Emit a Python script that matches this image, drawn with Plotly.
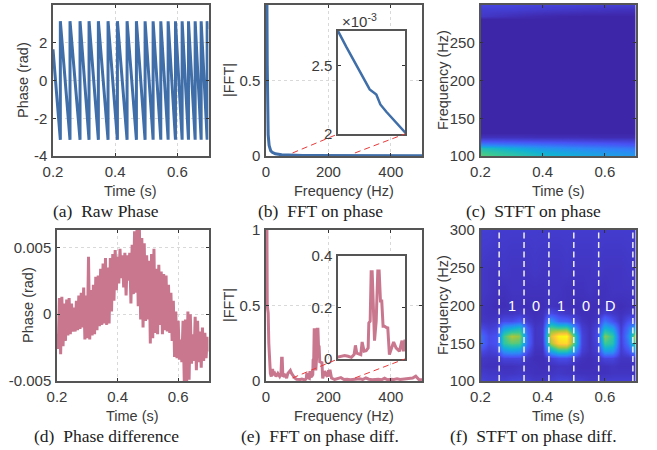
import numpy as np
import plotly.graph_objects as go

W, H = 657, 450
BLUE = "#3F6EA8"
PINK = "#C9778F"
INK = "#3A3A3A"
SANS = "Liberation Sans"
SERIF = "Liberation Serif"

# (a) raw phase
raw_time = [0.2, 0.2236, 0.2236, 0.2547, 0.2547, 0.2869, 0.2869, 0.3159, 0.3159, 0.3459, 0.3459, 0.3770, 0.3770,
            0.4071, 0.4071, 0.4382, 0.4382, 0.4682, 0.4682, 0.4961, 0.4961, 0.5219, 0.5219, 0.5466, 0.5466,
            0.5702, 0.5702, 0.5938, 0.5938, 0.6152, 0.6152, 0.6356, 0.6356, 0.6571, 0.6571, 0.6764, 0.6764,
            0.6957, 0.6957, 0.7]
raw_phase = [1.65, -3.14, 3.14, -3.14, 3.14, -3.14, 3.14, -3.14, 3.14, -3.14, 3.14, -3.14, 3.14,
             -3.14, 3.14, -3.14, 3.14, -3.14, 3.14, -3.14, 3.14, -3.14, 3.14, -3.14, 3.14,
             -3.14, 3.14, -3.14, 3.14, -3.14, 3.14, -3.14, 3.14, -3.14, 3.14, -3.14, 3.14,
             -3.14, 3.14, 2.7]

# (b) FFT on phase
fft_freq = [0, 3, 4, 5, 7, 10, 15, 20, 30, 50, 80, 105, 117.4, 132.4, 142.3, 152.3, 162.2, 168.2, 177.1, 189.6, 205, 300, 500]
fft_mag = [1, 1, 0.6, 0.3, 0.14, 0.07, 0.035, 0.025, 0.015, 0.008, 0.004, 0.002756, 0.002639, 0.002505, 0.002407,
           0.002327, 0.00229, 0.002217, 0.002163, 0.00209, 0.002, 0.0015, 0.0012]

# (d) phase difference, in units of 1e-3 rad, one sample per 4 ms from 0.2 s
diff_milli = [-1.5, -2.6, 1.2, -3.0, 1.3, -2.4, 0.8, -2.0, 1.1, -1.6, 1.2, -1.5, 0.8, -1.3, 0.5, -1.3, 1.0, -1.2, 1.4, -1.1,
              1.6, -1.0, 2.0, -1.9, 1.4, -1.8, 4.3, -1.9, 1.8, -1.6, 2.2, -1.5, 2.8, -1.2, 2.9, -0.9, 3.4, -0.8, 3.8, -0.7,
              4.2, -0.8, 3.5, -0.7, 4.2, 0.2, 4.5, 1.0, 4.8, 1.8, 4.3, 2.3, 4.9, 2.7, 4.4, 2.0, 4.6, 1.4, 4.4, 2.5,
              4.6, 0.8, 5.2, 1.5, 6.2, 1.6, 6.4, 0.6, 6.4, -0.4, 5.7, -1.0, 5.3, -0.5, 4.4, -0.4, 4.0, -2.2, 4.5, -1.8,
              4.9, -1.4, 3.4, -1.5, 3.7, -0.8, 3.2, -1.5, 3.0, -1.2, 2.9, -1.3, 2.2, -1.4, 1.6, -2.0, 1.0, -3.2, 0.2, -3.3,
              -0.5, -3.4, -1.9, -3.6, -0.5, -5.0, -0.4, -5.0, 0.2, -4.9, 0.0, -3.7, -1.5, -3.5, -0.2, -4.2, -0.5, -3.6,
              -1.3, -4.0, -1.0, -3.5, -1.4, -3.3, -1.7, -2.8]
diff_time = [0.2 + 0.004 * i for i in range(len(diff_milli))]
diff_phase = [v / 1000 for v in diff_milli]

# (e) FFT on phase difference
dfft_freq = [0, 3, 4, 7, 9, 12, 14, 17, 21, 24, 28, 32, 38, 44, 48, 50, 52, 54, 60, 66, 70, 74, 78, 82, 86, 92, 98, 102,
             105, 110, 115, 120, 125, 129, 131, 133, 136, 139, 141, 144, 147, 150, 151, 153, 154.5, 156, 159.5, 162,
             164.4, 166.4, 168.4, 170.3, 172.3, 174.3, 176.8, 179.3, 181.7, 184.2, 188, 191.6, 196.6, 200.5, 202.5, 205,
             210, 220, 230, 240, 250, 260, 270, 280, 290, 300, 310, 320, 330, 340, 350, 360, 370, 380, 390, 400, 410,
             420, 430, 440, 450, 460, 470, 480, 485, 490, 500]
dfft_mag = [1, 1, 0.5, 0.45, 0.25, 0.12, 0.05, 0.03, 0.08, 0.04, 0.05, 0.03, 0.05, 0.03, 0.045, 0.15, 0.15, 0.03, 0.04,
            0.02, 0.05, 0.06, 0.07, 0.05, 0.035, 0.02, 0.012, 0.01,
            0.0078, 0.0104, 0.013, 0.0104, 0.0065, 0.017, 0.053, 0.023, 0.019, 0.017, 0.066, 0.03, 0.032, 0.043, 0.14,
            0.147, 0.339, 0.339, 0.071, 0.147, 0.342, 0.342, 0.225, 0.225, 0.127, 0.127, 0.123, 0.121, 0.017, 0.036,
            0.066, 0.043, 0.03, 0.071, 0.03, 0.075,
            0.02, 0.01, 0.015, 0.022, 0.01, 0.012, 0.008, 0.01, 0.008, 0.015, 0.01, 0.02, 0.012, 0.008, 0.01, 0.012,
            0.008, 0.018, 0.008, 0.012, 0.01, 0.014, 0.01, 0.012, 0.015, 0.018, 0.02, 0.032, 0.02, 0.01, 0.008]

# (c) STFT on phase
stft_time = [0.2, 0.3, 0.4, 0.5, 0.6, 0.7]
stft_freq = [100, 105, 110, 115, 120, 125, 130, 275, 282, 286, 295, 300]
stft_phase = [
    [.62, .56, .47, .42, .38, .34],
    [.58, .50, .42, .37, .33, .30],
    [.50, .42, .34, .30, .27, .24],
    [.30, .27, .24, .21, .19, .16],
    [.14, .13, .12, .11, .10, .09],
    [.04, .04, .03, .03, .02, .02],
    [.00, .00, .00, .00, .00, .00],
    [.00, .00, .00, .00, .00, .00],
    [.00, .00, .00, .00, .00, .00],
    [.06, .03, .01, .00, .00, .00],
    [.08, .08, .07, .06, .05, .04],
    [.10, .10, .09, .09, .08, .08],
]

# (f) STFT on phase difference
sdiff_time = [0.2, 0.225, 0.25, 0.275, 0.3, 0.325, 0.35, 0.375, 0.4, 0.425, 0.45, 0.475, 0.5, 0.525, 0.55, 0.575, 0.6, 0.625, 0.65, 0.675, 0.7]
sdiff_freq = [100, 110, 120, 130, 140, 150, 160, 170, 180, 190, 200, 220, 250, 300]
stft_diff = [
    [.10, .08, .08, .08, .10, .10, .08, .06, .06, .08, .10, .10, .08, .08, .06, .06, .08, .08, .08, .08, .08],
    [.07, .06, .06, .05, .05, .06, .05, .04, .04, .05, .06, .05, .05, .04, .04, .04, .04, .05, .05, .05, .05],
    [.05, .04, .04, .04, .04, .05, .04, .04, .03, .04, .05, .05, .04, .03, .03, .04, .04, .05, .04, .04, .05],
    [.06, .05, .05, .10, .10, .10, .05, .03, .03, .08, .12, .12, .08, .04, .03, .05, .10, .10, .05, .05, .08],
    [.12, .08, .10, .32, .36, .34, .12, .04, .04, .38, .52, .52, .36, .08, .04, .08, .36, .34, .07, .14, .36],
    [.22, .12, .14, .55, .62, .60, .20, .05, .06, .72, .90, .92, .62, .10, .04, .10, .58, .52, .08, .25, .68],
    [.22, .12, .14, .58, .72, .68, .20, .05, .07, .80, .98, 1.0, .62, .10, .04, .12, .68, .55, .08, .30, .82],
    [.12, .08, .10, .36, .42, .48, .16, .05, .07, .62, .58, .60, .34, .08, .04, .10, .44, .36, .07, .24, .44],
    [.06, .05, .06, .12, .12, .16, .07, .04, .05, .34, .20, .18, .12, .05, .03, .06, .24, .14, .05, .14, .14],
    [.05, .04, .04, .05, .05, .06, .04, .03, .04, .12, .08, .06, .05, .03, .03, .04, .08, .06, .04, .06, .06],
    [.05, .04, .03, .03, .04, .04, .03, .03, .03, .05, .04, .04, .03, .03, .03, .03, .04, .04, .03, .04, .04],
    [.06, .05, .04, .04, .05, .05, .04, .04, .04, .05, .05, .04, .04, .04, .05, .04, .04, .05, .05, .05, .05],
    [.06, .05, .05, .06, .05, .05, .05, .06, .05, .05, .05, .06, .05, .05, .05, .06, .05, .05, .05, .06, .05],
    [.08, .08, .07, .07, .07, .07, .07, .07, .07, .07, .07, .07, .07, .07, .07, .07, .07, .07, .07, .07, .07],
]

# (f) bit boundaries and labels
bit_edges = [0.26, 0.34, 0.42, 0.50, 0.58, 0.69]
bit_labels = ["1", "0", "1", "0", "D"]
bit_centers = [0.30, 0.38, 0.46, 0.54, 0.615]

captions = ["(a)  Raw Phase", "(b)  FFT on phase", "(c)  STFT on phase",
            "(d)  Phase difference", "(e)  FFT on phase diff.", "(f)  STFT on phase diff."]

parula = [[0, "rgb(62,38,168)"], [1/7, "rgb(72,82,244)"], [2/7, "rgb(46,135,247)"], [3/7, "rgb(18,177,214)"],
          [4/7, "rgb(55,200,151)"], [5/7, "rgb(171,199,57)"], [6/7, "rgb(254,195,56)"], [1, "rgb(249,251,21)"]]


def box(px0, px1, top, bottom):
    return [px0 / W, px1 / W], [1 - bottom / H, 1 - top / H]


def axis(domain, rng, anchor, tickvals, ticktext, grid=True):
    return dict(domain=domain, range=rng, anchor=anchor, tickmode="array", tickvals=tickvals, ticktext=ticktext,
                showticklabels=bool(tickvals), automargin=False,
                showline=True, linecolor="#555555", linewidth=1.5, mirror="ticks", ticks="inside", ticklen=3,
                tickwidth=1, tickcolor="#333333", showgrid=grid, gridcolor="#d9d9d9", griddash="dot", gridwidth=1,
                zeroline=False, layer="above traces", tickfont=dict(family=SANS, size=15, color=INK),
                ticklabelstandoff=1)


layout = {}
rows = [(5, 156), (230, 381)]
time_ticks = ([0.2, 0.4, 0.6], ["0.2", "0.4", "0.6"])
freq_x = ([0, 200, 400], ["0", "200", "400"])
freq_y = ([100, 150, 200, 250, 300], ["100", "150", "200", "250", "300"])
fft_y = ([0, 0.5, 1], ["0", "0.5", "1"])

xd, yd = box(53, 208.5, *rows[0])
layout["xaxis"] = axis(xd, [0.2, 0.7], "y", *time_ticks)
layout["yaxis"] = axis(yd, [-4, 4], "x", [-4, -2, 0, 2, 4], ["-4", "-2", "0", "2", "4"])

xd, yd = box(266, 422, *rows[0])
layout["xaxis2"] = axis(xd, [0, 500], "y2", *freq_x)
layout["yaxis2"] = axis(yd, [0, 1], "x2", *fft_y)

xd, yd = box(480.5, 636, *rows[0])
layout["xaxis3"] = axis(xd, [0.2, 0.7], "y3", *time_ticks, grid=False)
layout["yaxis3"] = axis(yd, [100, 300], "x3", *freq_y, grid=False)

xd, yd = box(57, 208.5, *rows[1])
layout["xaxis4"] = axis(xd, [0.2, 0.7], "y4", *time_ticks)
layout["yaxis4"] = axis(yd, [-0.005, 0.0063], "x4", [-0.005, 0, 0.005], ["-0.005", "0", "0.005"])

xd, yd = box(266, 422, *rows[1])
layout["xaxis5"] = axis(xd, [0, 500], "y5", *freq_x)
layout["yaxis5"] = axis(yd, [0, 1], "x5", *fft_y)

xd, yd = box(480.5, 636, *rows[1])
layout["xaxis6"] = axis(xd, [0.2, 0.7], "y6", *time_ticks, grid=False)
layout["yaxis6"] = axis(yd, [100, 300], "x6", *freq_y, grid=False)

# insets
xd, yd = box(338, 405, 31, 134)
layout["xaxis7"] = axis(xd, [105, 205], "y7", [], [], grid=False)
layout["yaxis7"] = axis(yd, [0.002, 0.002756], "x7", [0.002, 0.0025], ["2", "2.5"], grid=False)
xd, yd = box(338, 405, 256, 359)
layout["xaxis8"] = axis(xd, [105, 205], "y8", [], [], grid=False)
layout["yaxis8"] = axis(yd, [0, 0.4], "x8", [0, 0.2, 0.4], ["0", "0.2", "0.4"], grid=False)

fig = go.Figure()


def line(x, y, color, ax, width=3):
    fig.add_trace(go.Scatter(x=x, y=y, mode="lines", line=dict(color=color, width=width),
                             xaxis="x" + ax, yaxis="y" + ax, showlegend=False, hoverinfo="skip"))


def heat(x, y, z, ax):
    fig.add_trace(go.Heatmap(x=x, y=y, z=z, zmin=0, zmax=1, colorscale=parula, showscale=False,
                             zsmooth="best", xaxis="x" + ax, yaxis="y" + ax, hoverinfo="skip"))


line(raw_time, raw_phase, BLUE, "")
line(fft_freq, fft_mag, BLUE, "2")
heat(stft_time, stft_freq, stft_phase, "3")
line(diff_time, diff_phase, PINK, "4")
line(dfft_freq, dfft_mag, PINK, "5")
heat(sdiff_time, sdiff_freq, stft_diff, "6")
line(fft_freq, fft_mag, BLUE, "7", 2.5)
line(dfft_freq, dfft_mag, PINK, "8", 3)

shapes = []
for ax, x0, x1, y0, y1 in [("7", 105, 205, 0.002, 0.002756), ("8", 105, 205, 0, 0.4)]:
    shapes.append(dict(type="rect", xref="x" + ax, yref="y" + ax, x0=x0, x1=x1, y0=y0, y1=y1,
                       fillcolor="white", line_width=0, layer="below"))
for ax in ["2", "5"]:
    for x0, x1 in [(85, 231), (285, 445)]:
        shapes.append(dict(type="line", xref="x" + ax, yref="y" + ax, x0=x0, x1=x1, y0=0.02, y1=0.146,
                           line=dict(color="#E8393A", width=1, dash="6px,4px"), layer="above"))
for t in bit_edges:
    shapes.append(dict(type="line", xref="x6", yref="y6", x0=t, x1=t, y0=100, y1=300,
                       line=dict(color="#F0F0F0", width=1.5, dash="6px,3.5px"), layer="above"))

ann = []


def text_at(text, cx, cy, font, size, color, angle=0, anchor="center"):
    ann.append(dict(text=text, xref="paper", yref="paper", x=cx / W, y=1 - cy / H, showarrow=False,
                    xanchor=anchor, yanchor="middle", textangle=angle, font=dict(family=font, size=size, color=color)))


caption_pos = [(106, 211), (320, 211), (533, 211), (106, 436), (320, 436), (533, 436)]
for text, (cx, cy) in zip(captions, caption_pos):
    text_at(text, cx, cy, SERIF, 17.5, "#222222")
for cx, cy, t in [(130, 191, "Time (s)"), (344, 191, "Frequency (Hz)"), (558, 191, "Time (s)"),
                  (132, 416, "Time (s)"), (344, 416, "Frequency (Hz)"), (558, 416, "Time (s)")]:
    text_at(t, cx, cy, SANS, 14.5, INK)
for cx, cy, t in [(23, 80, "Phase (rad)"), (229, 80, "|FFT|"), (443, 80, "Frequency (Hz)"),
                  (28, 305, "Phase (rad)"), (229, 305, "|FFT|"), (443, 305, "Frequency (Hz)")]:
    text_at(t, cx, cy, SANS, 14.5, INK, angle=-90)
for lab, t in zip(bit_labels, bit_centers):
    ann.append(dict(text=lab, xref="x6", yref="y6", x=t, y=200, showarrow=False,
                    font=dict(family=SANS, size=14.5, color="white")))
text_at("×10<sup>-3</sup>", 340, 21, SANS, 15, INK, anchor="left")

fig.update_layout(width=W, height=H, margin=dict(l=0, r=0, t=0, b=0), paper_bgcolor="white", plot_bgcolor="white",
                  shapes=shapes, annotations=ann, showlegend=False, **layout)
fig.write_html("out.html", config={"displayModeBar": False},
               post_script="document.body.style.margin='0';document.body.style.overflow='hidden';")
